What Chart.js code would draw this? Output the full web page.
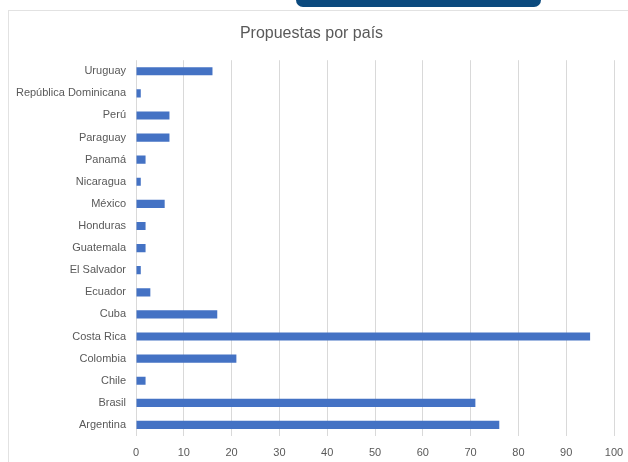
<!DOCTYPE html>
<html>
<head>
<meta charset="utf-8">
<script src="https://cdn.jsdelivr.net/npm/chart.js@4"></script>
<style>
  html, body { margin: 0; padding: 0; background: #fff; overflow: hidden; width: 628px; height: 462px; }
  #tab { position: absolute; left: 296px; top: 0; width: 245px; height: 7px; background: #0b4a7e; border-radius: 0 0 8px 8px; }
  #panel { position: absolute; left: 8px; top: 10px; width: 630px; height: 452px; border-left: 1px solid #e2e2e2; border-top: 1px solid #e2e2e2; }
  #chart_paises { display: block; }
</style>
</head>
<body>
<div id="tab"></div>
<div id="panel"><canvas id="chart_paises" width="630" height="451"></canvas></div>
<script>
// data, bottom to top as in the source sheet
const paises = ['Argentina', 'Brasil', 'Chile', 'Colombia', 'Costa Rica', 'Cuba', 'Ecuador', 'El Salvador',
  'Guatemala', 'Honduras', 'México', 'Nicaragua', 'Panamá', 'Paraguay', 'Perú', 'República Dominicana', 'Uruguay'];
const propuestas = [76, 71, 2, 21, 95, 17, 3, 1, 2, 2, 6, 1, 2, 7, 7, 1, 16];
const ejeX = [0, 10, 20, 30, 40, 50, 60, 70, 80, 90, 100];

const fuente = { family: "'Liberation Sans', Arial, sans-serif", size: 11 };
const gris = '#595959';

const ctx = document.getElementById('chart_paises').getContext('2d');

new Chart(ctx, {
  type: 'bar',
  data: {
    labels: paises,
    datasets: [{
      label: 'Propuestas',
      data: propuestas,
      backgroundColor: '#4472c4',
      borderWidth: 0,
      categoryPercentage: 1,
      barPercentage: 0.37,
    }],
  },
  options: {
    indexAxis: 'y',
    responsive: false,
    animation: false,
    layout: { padding: { left: 0, right: 25, top: 0, bottom: 0 } },
    plugins: {
      legend: { display: false },
      tooltip: { enabled: false },
      title: {
        display: true,
        text: 'Propuestas por país',
        color: gris,
        font: { family: fuente.family, size: 16, weight: 'normal' },
        padding: { top: 13, bottom: 17 },
      },
    },
    scales: {
      x: {
        min: ejeX[0],
        max: ejeX[ejeX.length - 1],
        afterBuildTicks: (scale) => { scale.ticks = ejeX.map(v => ({ value: v })); },
        afterFit: (scale) => { scale.height = 26; },
        grid: { color: '#d9d9d9', lineWidth: 1, drawTicks: false },
        border: { display: false },
        ticks: { color: gris, font: fuente, padding: 10 },
      },
      y: {
        reverse: true,
        afterFit: (scale) => { scale.width = 127; },
        grid: { display: false },
        border: { display: false },
        ticks: { color: gris, font: fuente, padding: 2, autoSkip: false },
      },
    },
  },
});
</script>
</body>
</html>
